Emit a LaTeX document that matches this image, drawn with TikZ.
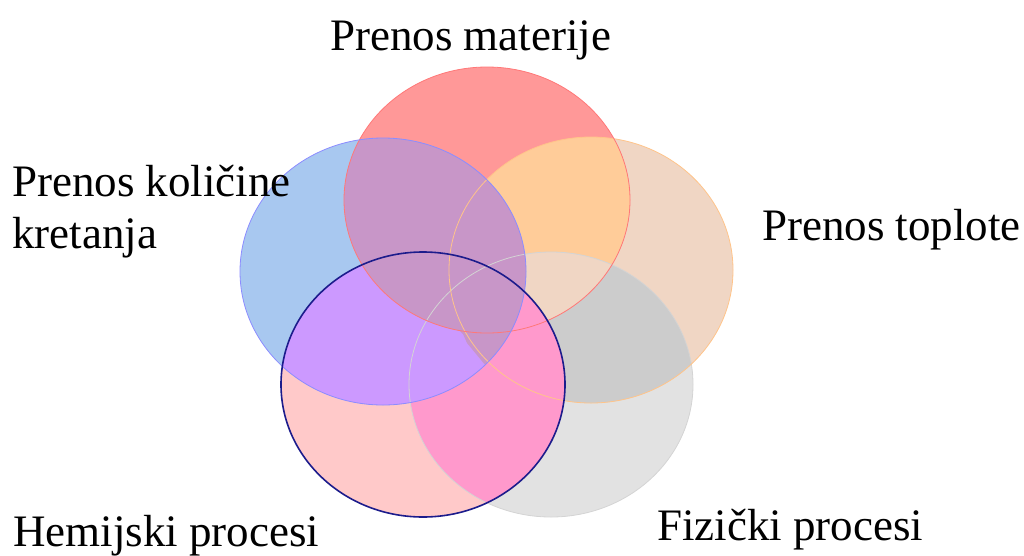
\documentclass[tikz,border=0pt]{standalone}
\usepackage{fontspec}
\setmainfont{Liberation Serif}
\newfontfamily\lblfont{Liberation Serif}

% region colours
\definecolor{redF}{HTML}{FF9898}
\definecolor{redL}{HTML}{FF7878}
\definecolor{blueF}{HTML}{A8C8F0}
\definecolor{blueL}{HTML}{8C8CFF}
\definecolor{peachF}{HTML}{F0D6C4}
\definecolor{orangeF}{HTML}{FFCC99}
\definecolor{orangeL}{HTML}{FFC48A}
\definecolor{grayF}{HTML}{E2E2E2}
\definecolor{grayD}{HTML}{CCCCCC}
\definecolor{grayL}{HTML}{D4D4D4}
\definecolor{pinkF}{HTML}{FFC9C9}
\definecolor{pinkD}{HTML}{FF99CC}
\definecolor{purpF}{HTML}{CC99FF}
\definecolor{mauveF}{HTML}{C896C8}
\definecolor{navyL}{HTML}{1C1C8C}

% the five sets
\def\setR{(487,200) ellipse [x radius=143, y radius=133]}
\def\setB{(383,271.5) ellipse [x radius=143, y radius=133.5]}
\def\setO{(591,270) ellipse [x radius=142, y radius=133]}
\def\setG{(551,384.5) ellipse [x radius=142, y radius=132.5]}
\def\setH{(423,384.5) ellipse [x radius=142, y radius=132.5]}

\tikzset{
  lbl/.style={inner sep=0pt, anchor=base west, font=\lblfont\fontsize{45}{50}\selectfont},
}

\begin{document}
\begin{tikzpicture}[x=1pt,y=-1pt]
\useasboundingbox (0,0) rectangle (1024,555);

% base fills
\fill[grayF] \setG;
\fill[peachF] \setO;
\begin{scope}\clip \setO; \fill[grayD] \setG; \end{scope}
\fill[redF] \setR;
\begin{scope}\clip \setR; \fill[orangeF] \setO; \end{scope}
\begin{scope}\clip \setR; \clip \setO; \fill[peachF] \setG; \end{scope}
\fill[blueF] \setB;
\begin{scope}\clip \setB; \fill[mauveF] \setR; \end{scope}

% chemical processes on top
\fill[pinkF] \setH;
\begin{scope}\clip \setH;
  \fill[pinkD] \setG; \fill[pinkD] \setO; \fill[pinkD] \setR;
\end{scope}
\begin{scope}\clip \setH; \fill[purpF] \setB; \end{scope}
\begin{scope}\clip \setH; \clip \setB;
  \fill[mauveF] \setR;
  \fill[mauveF] (455,326) -- (463,334) -- (467,343) -- (486,366) -- (540,366) -- (540,300) -- cycle;
\end{scope}

% outlines
\draw[grayL, line width=0.8] \setG;
\draw[orangeL, line width=0.8] \setO;
\draw[redL, line width=0.8] \setR;
\draw[blueL, line width=0.8] \setB;
\draw[navyL, line width=1.6] \setH;

% labels
\node[lbl] (tR) at (330,50) {Prenos materije};
\node[lbl] (tB1) at (12,196) {Prenos količine};
\node[lbl] (tB2) at (12,248) {kretanja};
\node[lbl] (tO) at (762,240) {Prenos toplote};
\node[lbl] (tH) at (13,546) {Hemijski procesi};
\node[lbl] (tG) at (657,540) {Fizički procesi};
\end{tikzpicture}
\end{document}
